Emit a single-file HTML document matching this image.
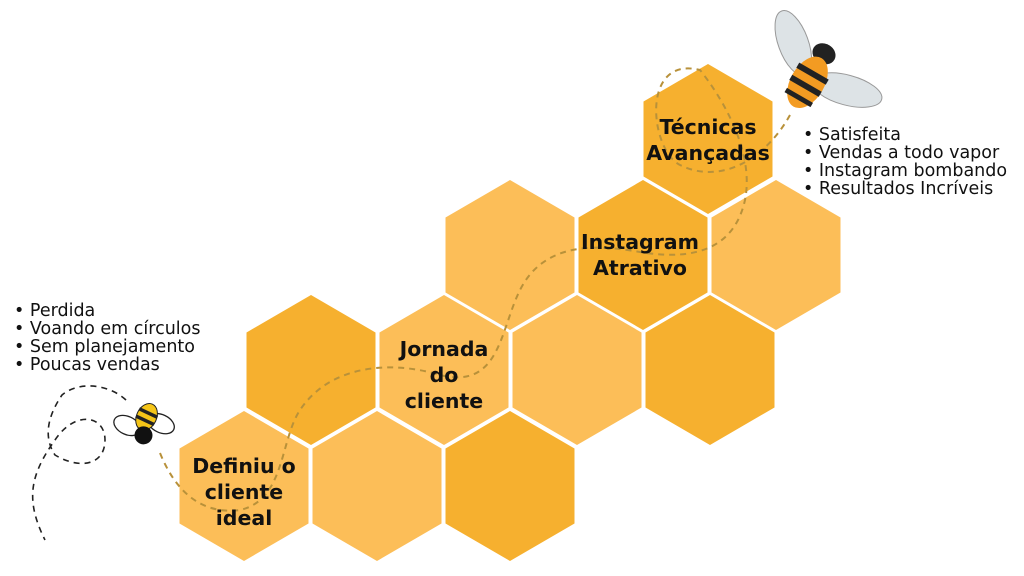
<!DOCTYPE html>
<html><head><meta charset="utf-8"><style>
body{margin:0;width:1024px;height:576px;background:#fff;overflow:hidden;font-family:"Liberation Sans",sans-serif}
svg{position:absolute;left:0;top:0}
.lbl{font-family:"DejaVu Sans",sans-serif;font-weight:bold;font-size:20.5px;fill:#111;text-anchor:middle}
.bl{font-family:"DejaVu Sans",sans-serif;font-size:17.5px;fill:#111}
</style></head><body>
<svg width="1024" height="576" viewBox="0 0 1024 576">
<defs><polygon id="h" points="0,-75 64.5,-37.5 64.5,37.5 0,75 -64.5,37.5 -64.5,-37.5"/></defs>
<g>
<use href="#h" x="244" y="486" fill="#FCBE58"/>
<use href="#h" x="377" y="486" fill="#FCBE58"/>
<use href="#h" x="510" y="486" fill="#F6B02F"/>
<use href="#h" x="311" y="370" fill="#F6B02F"/>
<use href="#h" x="444" y="370" fill="#FCBE58"/>
<use href="#h" x="577" y="370" fill="#FCBE58"/>
<use href="#h" x="710" y="370" fill="#F6B02F"/>
<use href="#h" x="510" y="255" fill="#FCBE58"/>
<use href="#h" x="643" y="255" fill="#F6B02F"/>
<use href="#h" x="776" y="255" fill="#FCBE58"/>
<use href="#h" x="708" y="139" fill="#F6B02F"/>
</g>
<path d="M160,453 C175,490 200,515 240,510 C285,500 280,440 300,410 C330,365 390,360 440,375 C500,390 500,330 520,290 C545,240 600,245 640,252 C700,262 735,245 745,200 C755,150 720,95 700,70 C640,55 650,150 680,165 C720,185 765,160 790,115" fill="none" stroke="#B8913A" stroke-width="2" stroke-dasharray="6,5"/>
<path d="M126,400 C110,385 80,380 62,395 C45,420 45,440 55,455 C80,470 105,465 105,440 C105,415 75,410 55,440 C30,475 25,500 45,540" fill="none" stroke="#222" stroke-width="1.6" stroke-dasharray="6,5"/>
<g transform="translate(145,425) rotate(25)">
<ellipse cx="14" cy="-8" rx="14" ry="9" fill="#fff" stroke="#222" stroke-width="1.3"/>
<ellipse cx="-16" cy="8" rx="14" ry="9" fill="#fff" stroke="#222" stroke-width="1.3"/>
<ellipse cx="-2" cy="-8" rx="10" ry="14" fill="#F5C518" stroke="#222" stroke-width="1"/>
<rect x="-12" y="-14" width="20" height="3.5" fill="#222"/>
<rect x="-12" y="-6" width="20" height="3.5" fill="#222"/>
<circle cx="3" cy="10" r="9" fill="#111"/>
</g>
<g transform="translate(810,78) rotate(30)">
<ellipse cx="-32" cy="-22" rx="15" ry="34" fill="#dde3e6" stroke="#999" transform="rotate(-50 -32 -22)"/>
<ellipse cx="38" cy="-8" rx="36" ry="15" fill="#dde3e6" stroke="#999" transform="rotate(-15 38 -8)"/>
<ellipse cx="0" cy="-28" rx="12" ry="10" fill="#222"/>
<ellipse cx="0" cy="5" rx="17" ry="28" fill="#F39B22"/>
<rect x="-17" y="-8" width="34" height="6" fill="#222"/>
<rect x="-17" y="6" width="34" height="6" fill="#222"/>
<rect x="-15" y="20" width="30" height="5" fill="#222"/>
</g>
<text class="lbl" x="244" y="473">Definiu o</text>
<text class="lbl" x="244" y="499">cliente</text>
<text class="lbl" x="244" y="525">ideal</text>
<text class="lbl" x="444" y="356">Jornada</text>
<text class="lbl" x="444" y="382">do</text>
<text class="lbl" x="444" y="408">cliente</text>
<text class="lbl" x="640" y="249">Instagram</text>
<text class="lbl" x="640" y="275">Atrativo</text>
<text class="lbl" x="708" y="134">Técnicas</text>
<text class="lbl" x="708" y="160">Avançadas</text>
<text class="bl" x="14" y="316">• Perdida</text>
<text class="bl" x="14" y="334">• Voando em círculos</text>
<text class="bl" x="14" y="352">• Sem planejamento</text>
<text class="bl" x="14" y="370">• Poucas vendas</text>
<text class="bl" x="803" y="140">• Satisfeita</text>
<text class="bl" x="803" y="158">• Vendas a todo vapor</text>
<text class="bl" x="803" y="176">• Instagram bombando</text>
<text class="bl" x="803" y="194">• Resultados Incríveis</text>
</svg>
</body></html>
